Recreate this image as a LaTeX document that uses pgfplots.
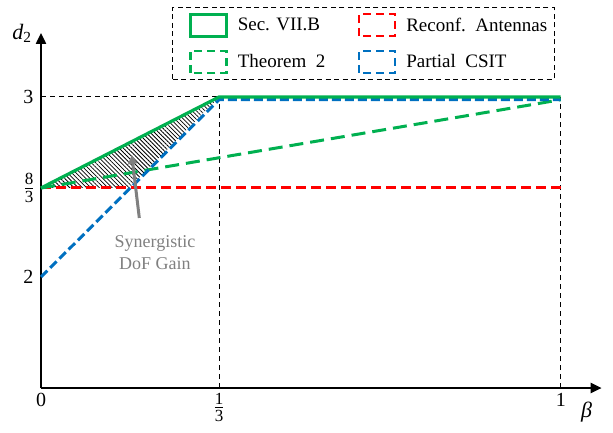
\documentclass[border=0pt]{standalone}
\usepackage{fontspec}
\setmainfont{Liberation Serif}
\usepackage{pgfplots}
\pgfplotsset{compat=1.18}
\usetikzlibrary{patterns,patterns.meta,arrows.meta}
\definecolor{mygreen}{HTML}{00B050}
\definecolor{myred}{HTML}{FF0000}
\definecolor{myblue}{HTML}{0070C0}
\definecolor{mygray}{HTML}{808080}
\newcommand{\fr}[2]{\ensuremath{\vcenter{\hbox{\fontsize{17}{17}\selectfont\vbox{\halign{\hfil##\hfil\cr #1\cr\noalign{\kern2.5pt\hrule height 0.8pt\kern2.5pt} #2\cr}}}}}}
\pgfplotsset{
  boxlegend/.style={legend image code/.code={\path (0pt,0pt); \draw[#1] (12pt,-11pt) rectangle (48pt,11pt);}},
}
\begin{document}
\begin{tikzpicture}
\begin{axis}[
  at={(41pt,44pt)}, anchor=south west,
  scale only axis, width=560.7pt, height=355pt,
  xmin=0, xmax=1.0799, ymin=1.1685, ymax=3.2344,
  x coord trafo/.code={\pgfmathparse{#1<=0.33334 ? #1*534 : 178+(#1-0.33333)*512.6}},
  x coord inv trafo/.code={\pgfmathparse{#1<=178 ? #1/534 : 0.33333+(#1-178)/512.6}},
  y coord trafo/.code={\pgfmathparse{#1<=2.66667 ? 111+(#1-2)*133.5 : 200+(#1-2.66667)*273}},
  y coord inv trafo/.code={\pgfmathparse{#1<=200 ? 2+(#1-111)/133.5 : 2.66667+(#1-200)/273}},
  axis lines=left,
  axis line style={line width=2.4pt, -{Triangle[length=11pt,width=10pt]}},
  xtick={0,0.33333,1},
  xticklabels={0,\fr{1}{3},1},
  ytick={2,2.66667,3},
  yticklabels={2,\fr{8}{3},3},
  major tick length=0pt,
  tick label style={font=\fontsize{20}{22}\selectfont},
  xticklabel style={yshift=-2pt},
  yticklabel style={xshift=-4pt},
  xlabel={\textit{β}}, ylabel={\textit{d}\textsubscript{2}},
  label style={font=\fontsize{22}{24}\selectfont},
  xlabel style={at={(axis description cs:0.973,-0.0676)}, anchor=center},
  ylabel style={at={(axis description cs:-0.034,1.0)}, anchor=center, rotate=-90},
  legend columns=2,
  legend cell align=left,
  legend style={at={(0.2336,1.0732)}, anchor=north west,
    draw=black, dash pattern=on 5pt off 3.5pt, line width=1.3pt,
    inner xsep=5pt, inner ysep=5pt,
    font=\fontsize{19}{21}\selectfont,
    row sep=12pt,
    /tikz/every odd column/.append style={column sep=8pt},
    /tikz/every even column/.append style={column sep=19pt}},
  clip=false,
]
% guide lines
\addplot[forget plot, black, line width=1pt, dash pattern=on 5pt off 4pt] coordinates {(0,3) (1,3)};
\addplot[forget plot, black, line width=1pt, dash pattern=on 5pt off 4pt] coordinates {(0.33333,1.1685) (0.33333,3)};
\addplot[forget plot, black, line width=1pt, dash pattern=on 5pt off 4pt] coordinates {(1,1.1685) (1,3)};
% hatched gain region
\addplot[forget plot, draw=none, pattern={Lines[angle=-45, distance=3pt, line width=0.8pt]}, pattern color=black] coordinates {(0,2.66667) (0.33333,3) (0.1648,2.66667) (0,2.66667)};
% Reconf. Antennas
\addplot[forget plot, myred, line width=3pt, dash pattern=on 10pt off 5pt] coordinates {(0,2.66667) (1,2.66667)};
% Theorem 2
\addplot[forget plot, mygreen, line width=3pt, dash pattern=on 14pt off 7pt] coordinates {(0,2.66667) (1,2.99)};
% Partial CSIT
\addplot[forget plot, myblue, line width=3pt, dash pattern=on 9pt off 4pt] coordinates {(0,2) (0.33333,2.99) (1,2.99)};
% Sec. VII.B
\addplot[forget plot, mygreen, line width=3.2pt, solid] coordinates {(0,2.66667) (0.33333,3) (1,3)};
% arrow
\addplot[forget plot, mygray, line width=3pt, -{Triangle[length=9pt,width=9pt]}] coordinates {(0.1841,2.442) (0.1699,2.788)};
\node[mygray, font=\fontsize{18}{22}\selectfont, align=center] at (rel axis cs:0.2033,0.380) {Synergistic\\DoF Gain};
% legend
\addlegendimage{boxlegend={mygreen, line width=3pt, solid}}
\addlegendentry{Sec. VII.B}
\addlegendimage{boxlegend={myred, line width=2.6pt, dash pattern=on 8pt off 5pt}}
\addlegendentry{Reconf.\ \ Antennas}
\addlegendimage{boxlegend={mygreen, line width=2.6pt, dash pattern=on 8pt off 5pt}}
\addlegendentry{Theorem\ \ 2}
\addlegendimage{boxlegend={myblue, line width=2.6pt, dash pattern=on 8pt off 5pt}}
\addlegendentry{Partial\ \ CSIT}
\end{axis}
\pgfresetboundingbox
\path (0,0) rectangle (613pt,432pt);
\end{tikzpicture}
\end{document}
